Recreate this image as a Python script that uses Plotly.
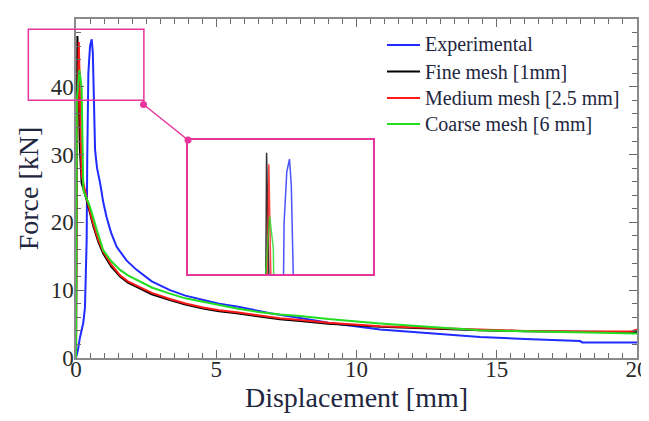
import plotly.graph_objects as go

# ---------------- data ----------------
exp_x = [0, 0.07, 0.14, 0.2, 0.26, 0.32, 0.36, 0.38, 0.40, 0.44, 0.50, 0.56, 0.60, 0.65,
         0.68, 0.75, 0.86, 0.97, 1.09, 1.25, 1.45, 1.8, 2.16, 2.7, 3.35, 3.9, 4.53, 5.1,
         5.73, 6.3, 6.92, 7.99, 9.0, 10.84, 12.5, 14.4, 16.0, 17.97, 18.05, 20]
exp_y = [0, 1.2, 3.0, 4.0, 5.2, 7.5, 12.5, 17.4, 29, 42, 46, 47, 45, 37,
         30.7, 28.0, 25.8, 23.0, 20.8, 18.5, 16.4, 14.4, 13.0, 11.3, 10.0, 9.2, 8.55, 8.0,
         7.6, 7.1, 6.6, 5.9, 5.2, 4.2, 3.65, 3.1, 2.8, 2.5, 2.3, 2.3]

fine_x = [0, 0.02, 0.05, 0.09, 0.14, 0.2, 0.38, 0.62, 0.8, 0.97, 1.25, 1.57, 1.85, 2.16,
          2.7, 3.35, 3.9, 4.53, 5.1, 5.73, 6.5, 7.27, 7.99, 9.0, 10.84, 12.5, 14.4, 16.0,
          18.0, 20]
fine_y = [0, 30, 47.5, 40, 30.7, 25.8, 23.3, 19.4, 17.1, 15.4, 13.5, 12.0, 11.1, 10.5,
          9.4, 8.55, 7.9, 7.3, 6.9, 6.6, 6.1, 5.7, 5.45, 5.05, 4.6, 4.35, 4.1, 3.95,
          3.82, 3.78]

med_x = [0, 0.03, 0.1, 0.14, 0.2, 0.38, 0.62, 0.8, 0.97, 1.25, 1.57, 1.85, 2.16, 2.7,
         3.35, 3.9, 4.53, 5.1, 5.73, 6.5, 7.27, 7.99, 9.0, 10.84, 12.5, 14.4, 16.0, 18.0,
         19.8, 20]
med_y = [0, 30, 46.6, 38, 27.0, 23.6, 19.7, 17.4, 15.7, 13.8, 12.2, 11.3, 10.7, 9.6,
         8.7, 8.05, 7.45, 7.05, 6.75, 6.25, 5.85, 5.6, 5.2, 4.7, 4.45, 4.15, 4.0, 3.9,
         3.9, 4.2]

coarse_x = [0, 0.02, 0.03, 0.12, 0.2, 0.24, 0.26, 0.38, 0.5, 0.74, 0.97, 1.25, 1.57,
            1.85, 2.16, 2.7, 3.35, 3.9, 4.53, 5.1, 5.73, 6.5, 7.27, 7.99, 9.0, 10.84,
            12.5, 14.4, 16.0, 17.97, 20]
coarse_y = [0, 30, 38, 42.5, 40, 30, 24.8, 23.5, 22.3, 18.9, 15.9, 14.3, 13.0,
            12.2, 11.5, 10.4, 9.5, 8.8, 8.3, 7.8, 7.3, 6.8, 6.4, 6.2, 5.75, 5.1,
            4.6, 4.1, 3.95, 3.8, 3.6]

series = [
    ("Experimental", exp_x, exp_y, "#1f2bff"),
    ("Fine mesh [1mm]", fine_x, fine_y, "#000000"),
    ("Medium mesh [2.5 mm]", med_x, med_y, "#ff1a1a"),
    ("Coarse mesh [6 mm]", coarse_x, coarse_y, "#22dd22"),
]

x_range = [0, 20]
y_range = [0, 50]
zoom_x = [-1.7, 2.42]   # magnified region (data units)
zoom_y = [38, 48.5]

# ---------------- layout geometry ----------------
# the page body adds an 8 px offset, so the figure is 8 px smaller and shifted
OFF = 8
W, H = 649 - OFF, 421 - OFF
# target plot area in window pixels: left 76, right 637, top 19, bottom 358
ml, mt = 76 - OFF, 19 - OFF
mr = W - (637 - OFF)
mb = H - (358 - OFF)
pw, ph = W - ml - mr, H - mt - mb

def px2paper(px, py):
    """window pixel -> paper coordinate"""
    return (px - OFF - ml) / pw, (H - mb - (py - OFF)) / ph

def data2paper(x, y):
    return ((x - x_range[0]) / (x_range[1] - x_range[0]),
            (y - y_range[0]) / (y_range[1] - y_range[0]))

inset_l, inset_t = px2paper(188, 140)
inset_r, inset_b = px2paper(373, 274)

MAG = "#e8359e"
TXT = "#1e2640"
SERIF = "Liberation Serif, Times New Roman, serif"

fig = go.Figure()
for name, xs, ys, c in series:
    fig.add_trace(go.Scatter(x=xs, y=ys, mode="lines", name=name, showlegend=False,
                             line=dict(color=c, width=2)))
for name, xs, ys, c in series:
    fig.add_trace(go.Scatter(x=xs, y=ys, mode="lines", name=name, showlegend=False,
                             line=dict(color=c, width=1.5), xaxis="x2", yaxis="y2",
                             opacity=0.8))

axis_common = dict(showgrid=False, zeroline=False, showline=True, linecolor="#8a8a8a",
                   linewidth=1.5, mirror="ticks", ticks="inside", tickcolor="#6a6a6a",
                   ticklen=8, tickwidth=1.2, automargin=False,
                   tickfont=dict(family=SERIF, size=23, color="#2a2a2a"))

fig.update_layout(
    width=W, height=H,
    margin=dict(l=ml, r=mr, t=mt, b=mb),
    paper_bgcolor="white", plot_bgcolor="white",
    xaxis=dict(range=x_range, dtick=5, domain=[0, 1], ticklabelstandoff=-10,
               minor=dict(dtick=0.5, ticks="inside", ticklen=5, tickcolor="#6a6a6a"),
               title=dict(text="Displacement [mm]", font=dict(family=SERIF, size=28, color=TXT),
                          standoff=0),
               **axis_common),
    yaxis=dict(range=y_range, dtick=10, domain=[0, 1], ticklabelstandoff=-4,
               minor=dict(dtick=2, ticks="inside", ticklen=5, tickcolor="#6a6a6a"),
               title=dict(text="Force [kN]", font=dict(family=SERIF, size=28, color=TXT),
                          standoff=4),
               **axis_common),
    xaxis2=dict(domain=[inset_l, inset_r], range=zoom_x, anchor="y2", automargin=False,
                showticklabels=False, ticks="", showgrid=False, zeroline=False,
                showline=True, mirror=True, linecolor=MAG, linewidth=1.5),
    yaxis2=dict(domain=[inset_b, inset_t], range=zoom_y, anchor="x2", automargin=False,
                showticklabels=False, ticks="", showgrid=False, zeroline=False,
                showline=True, mirror=True, linecolor=MAG, linewidth=1.5),
    showlegend=False,
)

# source rectangle (magnified region) in paper coords
rx0, ry0 = data2paper(zoom_x[0], zoom_y[0])
rx1, ry1 = data2paper(zoom_x[1], zoom_y[1])
fig.add_shape(type="rect", xref="paper", yref="paper", x0=rx0, y0=ry0, x1=rx1, y1=ry1,
              line=dict(color=MAG, width=1.5))

# connector with dots
cx0, cy0 = px2paper(143.5, 104.5)
cx1, cy1 = inset_l, inset_t
fig.add_shape(type="line", xref="paper", yref="paper", x0=cx0, y0=cy0, x1=cx1, y1=cy1,
              line=dict(color=MAG, width=1.5))
r = 3.5
for (cx, cy) in [(cx0, cy0), (cx1, cy1)]:
    fig.add_shape(type="circle", xref="paper", yref="paper",
                  x0=cx - r / pw, x1=cx + r / pw, y0=cy - r / ph, y1=cy + r / ph,
                  fillcolor=MAG, line=dict(color=MAG, width=0))

# legend (drawn manually for exact row spacing)
row_px = [45, 71.5, 98, 124]
for (name, xs, ys, c), ry in zip(series, row_px):
    lx0, ly = px2paper(387, ry)
    lx1, _ = px2paper(420, ry)
    fig.add_shape(type="line", xref="paper", yref="paper", x0=lx0, x1=lx1, y0=ly, y1=ly,
                  line=dict(color=c, width=2))
    tx, _ = px2paper(423, ry)
    fig.add_annotation(x=tx, y=ly, xref="paper", yref="paper", text=name, showarrow=False,
                       xanchor="left", yanchor="middle",
                       font=dict(family=SERIF, size=20, color=TXT))

fig.write_html("out.html")
